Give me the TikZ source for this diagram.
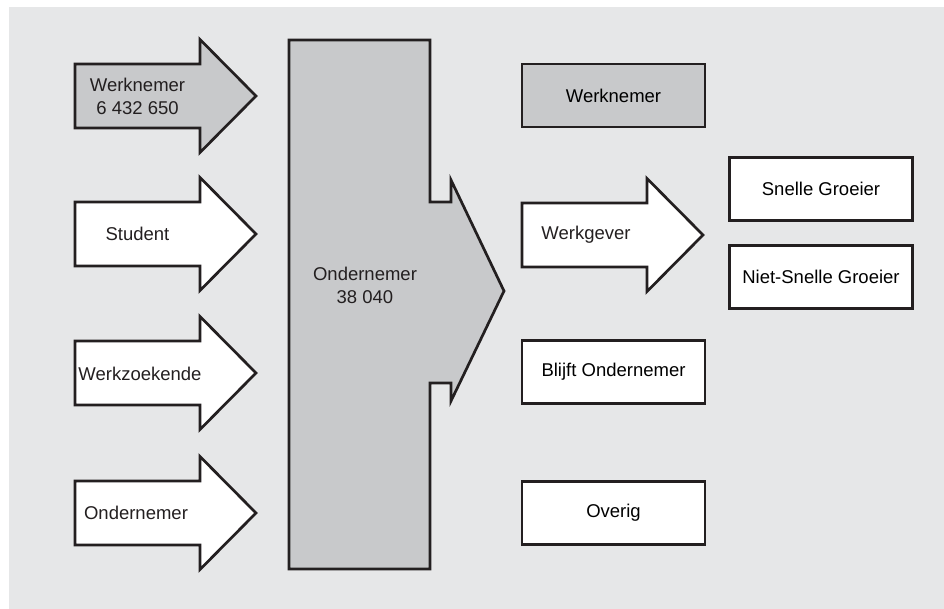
\documentclass[tikz,border=0pt]{standalone}
\usepackage{fontspec}
\setmainfont{Liberation Sans}
\usepackage{tikz}
\usetikzlibrary{calc}

\definecolor{bggray}{HTML}{E6E7E8}
\definecolor{fillgray}{HTML}{C8C9CB}
\definecolor{inkdark}{HTML}{231F20}

\tikzset{
    outline/.style={draw=inkdark, line width=2.7pt, line join=miter},
    statebox/.style={outline, fill=white, minimum width=183pt, minimum height=63pt, inner sep=0pt},
    arrowtext/.style={align=center, inner sep=0pt, text=inkdark}
}

\begin{document}
\begin{tikzpicture}[x=1pt, y=-1pt, font=\fontsize{18.5}{23}\selectfont]
    % Frame and background
    \useasboundingbox (0,0) rectangle (944,609);
    \fill[bggray] (9,7) rectangle (944,609);

    % Incoming arrows (left column)
    \coordinate (inA) at (75,96);
    \coordinate (inB) at (75,234);
    \coordinate (inC) at (75,373);
    \coordinate (inD) at (75,513);
    \draw[outline, fill=fillgray] ($(inA)+(0,-32)$) -- ++(125,0) -- ++(0,-24.5) -- ++(56,56.5) -- ++(-56,56.5) -- ++(0,-24.5) -- ++(-125,0) -- cycle;
    \draw[outline, fill=white] ($(inB)+(0,-32)$) -- ++(125,0) -- ++(0,-24.5) -- ++(56,56.5) -- ++(-56,56.5) -- ++(0,-24.5) -- ++(-125,0) -- cycle;
    \draw[outline, fill=white] ($(inC)+(0,-32)$) -- ++(125,0) -- ++(0,-24.5) -- ++(56,56.5) -- ++(-56,56.5) -- ++(0,-24.5) -- ++(-125,0) -- cycle;
    \draw[outline, fill=white] ($(inD)+(0,-32)$) -- ++(125,0) -- ++(0,-24.5) -- ++(56,56.5) -- ++(-56,56.5) -- ++(0,-24.5) -- ++(-125,0) -- cycle;
    \node[arrowtext] (werknemerIn) at ($(inA)+(62.5,0)$) {Werknemer\\6 432 650};
    \node[arrowtext] (student) at ($(inB)+(62.5,0)$) {Student};
    \node[arrowtext] (werkzoekende) at ($(inC)+(65,1)$) {Werkzoekende};
    \node[arrowtext] (ondernemerIn) at ($(inD)+(61,0)$) {Ondernemer};

    % Central block with its arrow head
    \draw[outline, fill=fillgray] (289,40) -- (430,40) -- (430,202) -- (451,202) -- (451,180)
        -- (504,291) -- (451,401) -- (451,383) -- (430,383) -- (430,569) -- (289,569) -- cycle;
    \node[arrowtext] (ondernemer) at (365,285) {Ondernemer\\38 040};

    % Outcomes (right column)
    \node[statebox, fill=fillgray] (werknemerOut) at (613.5,95.5) {Werknemer};
    \coordinate (outB) at (522,235);
    \draw[outline, fill=white] ($(outB)+(0,-32)$) -- ++(125,0) -- ++(0,-24.5) -- ++(56,56.5) -- ++(-56,56.5) -- ++(0,-24.5) -- ++(-125,0) -- cycle;
    \node[arrowtext] (werkgever) at ($(outB)+(64,0)$) {Werkgever};
    \node[statebox] (blijft) at (613.5,372) {Blijft Ondernemer};
    \node[statebox] (overig) at (613.5,513) {Overig};

    % Employer split
    \node[statebox] (snelle) at (821,189) {Snelle Groeier};
    \node[statebox] (nietsnelle) at (821,277) {Niet-Snelle Groeier};

\end{tikzpicture}
\end{document}
